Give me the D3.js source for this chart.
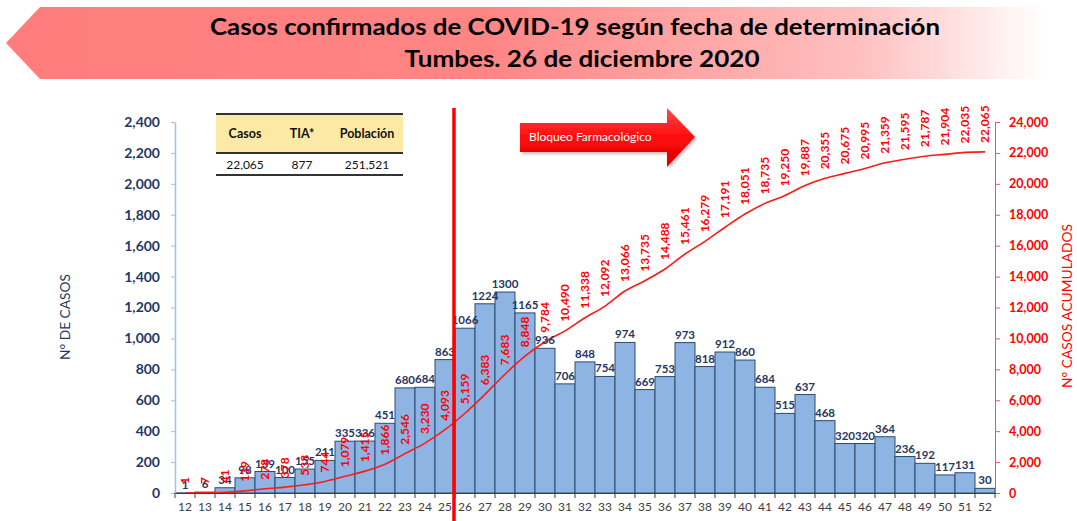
<!DOCTYPE html>
<html>
<head>
<meta charset="utf-8">
<script src="https://cdn.jsdelivr.net/npm/d3@7"></script>
<style>
  body { margin: 0; background: #fff; }
  svg { display: block; font-family: "Lato", "Open Sans", sans-serif; }
</style>
</head>
<body>
<svg id="chart" width="1077" height="521"></svg>
<script>
// Semanas epidemiológicas
const semanas = [12,13,14,15,16,17,18,19,20,21,22,23,24,25,26,27,28,29,30,31,32,
                 33,34,35,36,37,38,39,40,41,42,43,44,45,46,47,48,49,50,51,52];
// Casos confirmados por semana
const casos = [1,6,34,98,139,100,155,211,335,336,451,680,684,863,1066,1224,1300,1165,936,706,848,
               754,974,669,753,973,818,912,860,684,515,637,468,320,320,364,236,192,117,131,30];
// Casos acumulados
const acumulados = [1,7,41,139,278,378,533,744,1079,1415,1866,2546,3230,4093,5159,6383,7683,8848,9784,10490,11338,
                    12092,13066,13735,14488,15461,16279,17191,18051,18735,19250,19887,20355,20675,20995,21359,21595,21787,21904,22035,22065];
// Marcas de los ejes
const ticksCasos = [0,200,400,600,800,1000,1200,1400,1600,1800,2000,2200,2400];
const ticksAcumulados = [0,2000,4000,6000,8000,10000,12000,14000,16000,18000,20000,22000,24000];
// Tabla resumen
const tablaEncabezados = ["Casos", "TIA*", "Población"];
const tablaValores = ["22,065", "877", "251,521"];
// Títulos
const titulo = ["Casos confirmados de COVID-19 según fecha de determinación", "Tumbes. 26 de diciembre 2020"];
const semanaBloqueo = 26;
const textoBloqueo = "Bloqueo Farmacológico";

const svg = d3.select("#chart");
const fmt = d3.format(",");
const X0 = 175, X1 = 995, Y0 = 493, Y1 = 122;

const x = d3.scaleBand().domain(semanas).range([X0, X1]).padding(0);
const yL = d3.scaleLinear().domain([0, 2400]).range([Y0, Y1]);
const yR = d3.scaleLinear().domain([0, 24000]).range([Y0, Y1]);

const defs = svg.append("defs");

// ---- Banner del título ----
const gBan = defs.append("linearGradient").attr("id", "banGrad").attr("x1", "0").attr("x2", "1").attr("y1", "0").attr("y2", "0");
gBan.append("stop").attr("offset", "0").attr("stop-color", "#ff7c7c");
gBan.append("stop").attr("offset", "0.45").attr("stop-color", "#ff8585");
gBan.append("stop").attr("offset", "0.8").attr("stop-color", "#ffc0c0");
gBan.append("stop").attr("offset", "0.97").attr("stop-color", "#ffffff");

svg.append("path")
  .attr("d", "M6,43 L40,7 L1077,7 L1077,79 L40,79 Z")
  .attr("fill", "url(#banGrad)");

svg.selectAll("text.titulo").data(titulo).join("text")
  .attr("class", "titulo")
  .attr("x", (d, i) => i === 0 ? 575 : 582)
  .attr("y", (d, i) => i === 0 ? 35 : 67)
  .attr("text-anchor", "middle")
  .attr("font-size", 23).attr("font-weight", 700).attr("fill", "#000")
  .attr("textLength", (d, i) => i === 0 ? 730 : 355)
  .attr("lengthAdjust", "spacingAndGlyphs")
  .text(d => d);

// ---- Tabla resumen ----
const tabla = svg.append("g");
const colX = [245, 302, 367];
tabla.append("rect").attr("x", 216).attr("y", 114).attr("width", 187).attr("height", 39).attr("fill", "#fde9a6");
[[114, 2], [153, 2], [175, 2]].forEach(([yy, w]) => {
  tabla.append("line").attr("x1", 216).attr("x2", 403).attr("y1", yy).attr("y2", yy)
    .attr("stroke", "#333").attr("stroke-width", w);
});
tabla.selectAll("text.enc").data(tablaEncabezados).join("text").attr("class", "enc")
  .attr("x", (d, i) => colX[i]).attr("y", 138).attr("text-anchor", "middle")
  .attr("font-size", 12.5).attr("font-weight", 700).attr("fill", "#111").text(d => d);
tabla.selectAll("text.val").data(tablaValores).join("text").attr("class", "val")
  .attr("x", (d, i) => colX[i]).attr("y", 169).attr("text-anchor", "middle")
  .attr("font-size", 12).attr("fill", "#111").text(d => d);

// ---- Barras ----
const datos = semanas.map((s, i) => ({ s, c: casos[i], a: acumulados[i] }));
svg.append("g").selectAll("rect").data(datos).join("rect")
  .attr("x", d => x(d.s)).attr("width", x.bandwidth())
  .attr("y", d => yL(d.c)).attr("height", d => Y0 - yL(d.c))
  .attr("fill", "#8db4e2").attr("stroke", "#2c4a6e").attr("stroke-width", 1);

// ---- Línea de acumulados ----
const linea = d3.line().x(d => x(d.s) + x.bandwidth() / 2).y(d => yR(d.a)).curve(d3.curveMonotoneX);
svg.append("path").datum(datos).attr("d", linea)
  .attr("fill", "none").attr("stroke", "#ff1a1a").attr("stroke-width", 1.6);

// ---- Etiquetas de barras ----
svg.append("g").selectAll("text").data(datos).join("text")
  .attr("x", d => x(d.s) + x.bandwidth() / 2).attr("y", d => yL(d.c) - 4)
  .attr("text-anchor", "middle").attr("font-size", 11.5).attr("font-weight", 700)
  .attr("fill", "#1f3864").text(d => d.c);

// ---- Etiquetas de acumulados ----
svg.append("g").selectAll("text").data(datos).join("text")
  .attr("transform", d => `translate(${x(d.s) + x.bandwidth() / 2},${yR(d.a) - 9}) rotate(-90)`)
  .attr("dy", "0.35em").attr("text-anchor", "start")
  .attr("font-size", 12).attr("font-weight", 700).attr("fill", "#ff0000")
  .text(d => fmt(d.a));

// ---- Ejes ----
const axL = svg.append("g").attr("transform", `translate(${X0},0)`)
  .call(d3.axisLeft(yL).tickValues(ticksCasos).tickFormat(fmt).tickSize(4).tickPadding(11).tickSizeOuter(0));
axL.select(".domain").attr("stroke", "#9dc3e6").attr("stroke-width", 1.5);
axL.selectAll(".tick line").attr("stroke", "#9dc3e6");
axL.selectAll(".tick text").attr("font-size", 14).attr("font-weight", 700).attr("fill", "#1f3864")
  .attr("font-family", "Lato, 'Open Sans', sans-serif");

const axR = svg.append("g").attr("transform", `translate(${X1},0)`)
  .call(d3.axisRight(yR).tickValues(ticksAcumulados).tickFormat(fmt).tickSize(5).tickPadding(9).tickSizeOuter(0));
axR.select(".domain").attr("stroke", "#ff5050").attr("stroke-width", 1);
axR.selectAll(".tick line").attr("stroke", "#ff5050");
axR.selectAll(".tick text").attr("font-size", 12.5).attr("font-weight", 700).attr("fill", "#ff0000")
  .attr("font-family", "Lato, 'Open Sans', sans-serif");

const axB = svg.append("g").attr("transform", `translate(0,${Y0})`)
  .call(d3.axisBottom(x).tickSize(0).tickPadding(9).tickSizeOuter(0));
axB.select(".domain").attr("stroke", "#404040").attr("stroke-width", 1.2);
axB.selectAll(".tick text").attr("font-size", 12).attr("fill", "#404040")
  .attr("font-family", "Lato, 'Open Sans', sans-serif");
// marcas entre semanas
const bordes = semanas.map(s => x(s)).concat([X1]);
axB.selectAll("line.borde").data(bordes).join("line").attr("class", "borde")
  .attr("x1", d => d).attr("x2", d => d).attr("y1", 0).attr("y2", 5)
  .attr("stroke", "#404040").attr("stroke-width", 1);

// ---- Títulos de ejes ----
svg.append("text").attr("transform", "translate(70,317) rotate(-90)")
  .attr("text-anchor", "middle").attr("font-size", 14).attr("fill", "#1f3864")
  .attr("textLength", 86).attr("lengthAdjust", "spacingAndGlyphs").text("N° DE CASOS");
svg.append("text").attr("transform", "translate(1072,306) rotate(-90)")
  .attr("text-anchor", "middle").attr("font-size", 14).attr("fill", "#ff0000")
  .attr("textLength", 164).attr("lengthAdjust", "spacingAndGlyphs").text("N° CASOS ACUMULADOS");

// ---- Línea vertical de inicio del bloqueo ----
const xb = x(semanaBloqueo) - 1;
svg.append("line").attr("x1", xb).attr("x2", xb).attr("y1", 108).attr("y2", 521)
  .attr("stroke", "#ff0000").attr("stroke-width", 3.5);

// ---- Flecha de bloqueo farmacológico ----
const gArr = defs.append("linearGradient").attr("id", "arrGrad").attr("x1", "0").attr("x2", "0").attr("y1", "0").attr("y2", "1");
gArr.append("stop").attr("offset", "0").attr("stop-color", "#ff4a4a");
gArr.append("stop").attr("offset", "0.5").attr("stop-color", "#ff0a0a");
gArr.append("stop").attr("offset", "1").attr("stop-color", "#d60000");
const flt = defs.append("filter").attr("id", "sombra").attr("x", "-10%").attr("y", "-20%").attr("width", "130%").attr("height", "150%");
flt.append("feDropShadow").attr("dx", 1.5).attr("dy", 2).attr("stdDeviation", 1.5).attr("flood-color", "#000").attr("flood-opacity", 0.25);
svg.append("path")
  .attr("d", "M520,123 L667,123 L667,108 L695,137 L667,167 L667,152 L520,152 Z")
  .attr("fill", "url(#arrGrad)").attr("filter", "url(#sombra)");
svg.append("text").attr("x", 529).attr("y", 141).attr("font-size", 12).attr("fill", "#fff")
  .attr("font-family", "Lato, 'Open Sans', sans-serif").text(textoBloqueo);
</script>
</body>
</html>
